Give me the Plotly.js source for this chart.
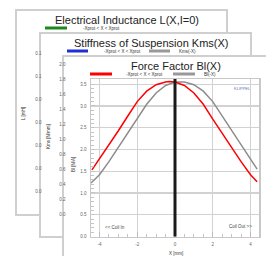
<!DOCTYPE html>
<html><head><meta charset="utf-8">
<script src="https://cdn.plot.ly/plotly-3.0.1.min.js"></script>
<style>html,body{margin:0;padding:0;background:#fff;}#chart{width:266px;height:256px;}</style>
</head><body><div id="chart"></div>
<script>
// ---- data ----
const blX = [-4.4,-4.0,-3.5,-3.0,-2.5,-2.0,-1.5,-1.0,-0.5,-0.3,0,0.5,1.0,1.5,2.0,2.5,3.0,3.5,4.0,4.35];
const blValues = [1.53,1.78,2.12,2.43,2.77,3.10,3.34,3.49,3.55,3.56,3.55,3.47,3.30,3.04,2.70,2.37,2.05,1.72,1.42,1.26];
const blMirrorX = [-4.45,-4.0,-3.5,-3.0,-2.5,-2.0,-1.5,-1.0,-0.5,0,0.3,0.5,1.0,1.5,2.0,2.5,3.0,3.5,4.0,4.35];
const blMirrorValues = [1.23,1.42,1.72,2.05,2.37,2.70,3.04,3.30,3.47,3.55,3.56,3.55,3.49,3.34,3.10,2.77,2.43,2.12,1.78,1.55];
const restPosition = [0];

const xTickVals = [-4,-2,0,2,4];
const xTickText = ['-4','-2','0','2','4'];
const blTickVals = [0,0.5,1.0,1.5,2.0,2.5,3.0,3.5];
const blTickText = ['0.0','0.5','1.0','1.5','2.0','2.5','3.0','3.5'];
const kmsTickVals = [0,0.2,0.4,0.6,0.8,1.0,1.2,1.4,1.6,1.8,2.0];
const kmsTickText = ['0.0','0.2','0.4','0.6','0.8','1.0','1.2','1.4','1.6','1.8','2.0'];
const lTickVals = [0,0.02,0.04,0.06,0.08,0.10,0.12];
const lTickText = ['0.0','0.0','0.0','0.0','0.0','0.1','0.1'];

const panelTitles = ['Electrical Inductance L(X,I=0)','Stiffness of Suspension Kms(X)','Force Factor Bl(X)'];
const protLabel = '-Xprot < X < Xprot';
const mirrorLabels = ['Kms(-X)','Bl(-X)'];
const axisTitles = ['L [mH]','Kms [N/mm]','Bl [N/A]','X [mm]'];
const notes = ['KLIPPEL','<< Coil In','Coil Out >>'];

// ---- helpers (pixel -> paper) ----
const W = 266, H = 256;
const px = v => v / W;
const py = v => 1 - v / H;
const FONT = 'Liberation Sans, Arial, sans-serif';

const traces = [
  {x: blMirrorX, y: blMirrorValues, name: mirrorLabels[1], type: 'scatter', mode: 'lines',
   line: {color: '#8c8c8c', width: 1.5}, xaxis: 'x', yaxis: 'y', showlegend: false, hoverinfo: 'skip'},
  {x: blX, y: blValues, name: protLabel, type: 'scatter', mode: 'lines',
   line: {color: '#ff0000', width: 1.5}, xaxis: 'x', yaxis: 'y', showlegend: false, hoverinfo: 'skip'},
  {x: [], y: [], type: 'scatter', xaxis: 'x2', yaxis: 'y2', showlegend: false},
  {x: [], y: [], type: 'scatter', xaxis: 'x3', yaxis: 'y3', showlegend: false}
];

function panel(x0, y0, x1, y1) {
  return {type: 'rect', xref: 'paper', yref: 'paper', x0: px(x0), x1: px(x1), y0: py(y1), y1: py(y0),
          fillcolor: '#ffffff', line: {color: '#cfcfcf', width: 2}, layer: 'below'};
}
function swatch(x0, x1, y, color) {
  return {type: 'line', xref: 'paper', yref: 'paper', x0: px(x0), x1: px(x1), y0: py(y), y1: py(y),
          line: {color: color, width: 3}, layer: 'below'};
}
function note(text, x, y, size, opts) {
  return Object.assign({text: text, xref: 'paper', yref: 'paper', x: px(x), y: py(y), showarrow: false,
          xanchor: 'center', yanchor: 'middle', font: {family: FONT, size: size, color: '#333'}}, opts || {});
}

const shapes = [
  panel(16, 10, 227, 215),
  panel(40, 33, 251, 237),
  panel(63, 56, 275, 265),
  swatch(45, 67, 28, '#1a8a1a'),
  swatch(67, 88, 51, '#1f2fd8'),
  swatch(149, 170, 51, '#999999'),
  swatch(90, 112, 74, '#ff0000'),
  swatch(173, 195, 74, '#999999'),
  {type: 'line', xref: 'x', yref: 'y domain', x0: restPosition[0], x1: restPosition[0], y0: 0, y1: 1,
   line: {color: '#1a1a1a', width: 3}, layer: 'above'}
];

const annotations = [
  note(panelTitles[0], 127, 19.5, 11, {font: {family: FONT, size: 11, color: '#222'}}),
  note(panelTitles[1], 151, 43, 11, {font: {family: FONT, size: 11, color: '#222'}}),
  note(panelTitles[2], 175.5, 66, 11, {font: {family: FONT, size: 11, color: '#222'}}),
  note(protLabel, 101.5, 28, 4.5),
  note(protLabel, 122, 51, 4.5),
  note(mirrorLabels[0], 187, 51, 4.5),
  note(protLabel, 144.5, 74, 4.5),
  note(mirrorLabels[1], 210, 74, 4.5),
  note(axisTitles[0], 23, 114, 4.5, {textangle: -90}),
  note(axisTitles[1], 48, 137, 4.5, {textangle: -90}),
  note(axisTitles[2], 73, 165, 4.5, {textangle: -90}),
  note(axisTitles[3], 176, 253.5, 4.5),
  note(notes[0], 242, 88, 4, {font: {family: FONT, size: 4, color: '#5a72c4'}}),
  note(notes[1], 114.5, 227, 4.5, {font: {family: FONT, size: 4.5, color: '#444'}}),
  note(notes[2], 240, 226.5, 4.5, {font: {family: FONT, size: 4.5, color: '#444'}})
];

const tickFont = {family: FONT, size: 4.5, color: '#666'};

const layout = {
  width: W, height: H,
  margin: {l: 0, r: 0, t: 0, b: 0},
  paper_bgcolor: '#ffffff',
  plot_bgcolor: 'rgba(0,0,0,0)',
  showlegend: false,
  xaxis: {domain: [px(91), px(259)], range: [-4.45, 4.45], anchor: 'y',
    tickvals: xTickVals, ticktext: xTickText, tickfont: tickFont,
    showgrid: true, gridcolor: '#d2d2d2', gridwidth: 1.2, zeroline: false,
    showline: true, mirror: true, linecolor: '#c8c8c8', linewidth: 1.5,
    ticks: 'inside', ticklen: 5, tickcolor: '#bbbbbb', tickwidth: 1,
    minor: {dtick: 0.5, tick0: 0, ticks: 'inside', ticklen: 3, tickcolor: '#c4c4c4', showgrid: false},
    ticklabelstandoff: 3},
  yaxis: {domain: [py(236.5), py(79)], range: [0, 3.62], anchor: 'x',
    tickvals: blTickVals, ticktext: blTickText, tickfont: tickFont,
    showgrid: true, gridcolor: '#d2d2d2', gridwidth: 1.2, zeroline: false,
    showline: true, mirror: true, linecolor: '#c8c8c8', linewidth: 1.5,
    ticks: 'inside', ticklen: 4, tickcolor: '#c4c4c4', tickwidth: 1,
    minor: {dtick: 0.1, tick0: 0, ticks: 'inside', ticklen: 3, tickcolor: '#c4c4c4', showgrid: false},
    ticklabelstandoff: 2},
  xaxis2: {domain: [px(70), px(80)], anchor: 'y2', visible: false, range: [0, 1]},
  yaxis2: {domain: [py(214), py(64)], range: [0, 2.0], anchor: 'free', position: px(65.5), side: 'left',
    tickvals: kmsTickVals, ticktext: kmsTickText, tickfont: tickFont,
    showgrid: false, zeroline: false, showline: false, ticks: ''},
  xaxis3: {domain: [px(45), px(55)], anchor: 'y3', visible: false, range: [0, 1]},
  yaxis3: {domain: [py(191.5), py(53)], range: [0, 0.12], anchor: 'free', position: px(41.5), side: 'left',
    tickvals: lTickVals, ticktext: lTickText, tickfont: tickFont,
    showgrid: false, zeroline: false, showline: false, ticks: ''},
  shapes: shapes,
  annotations: annotations
};

Plotly.newPlot('chart', traces, layout, {displayModeBar: false, staticPlot: true});
</script>
</body></html>
